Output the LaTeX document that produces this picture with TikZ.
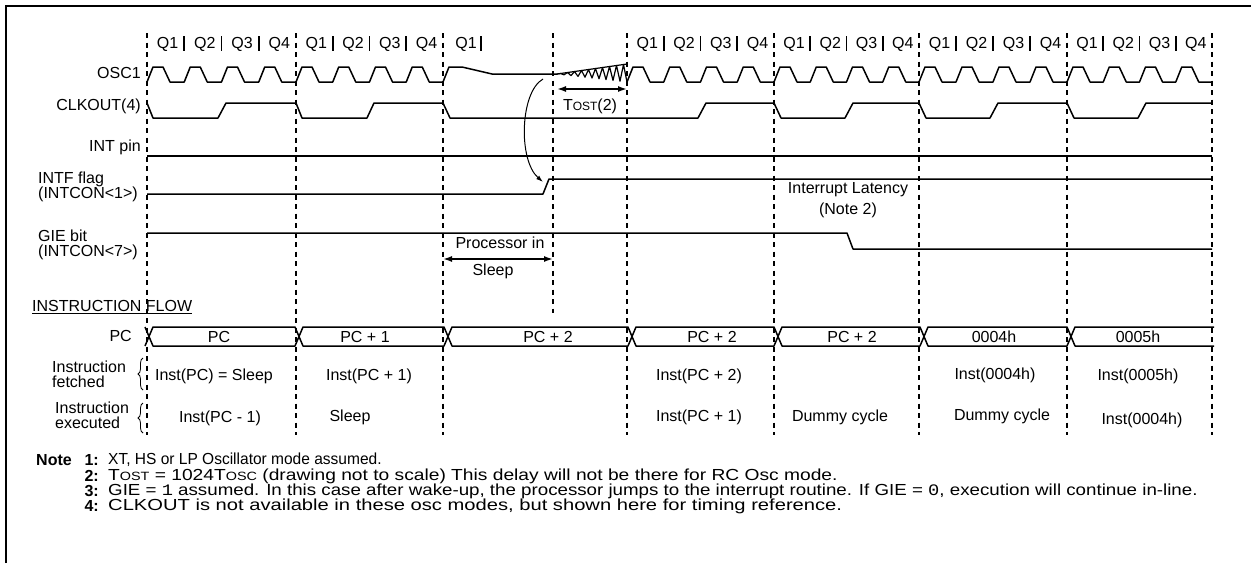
\documentclass[tikz,border=0pt]{standalone}
\usepackage{fontspec}
\usepackage{graphicx}
\setmainfont{Liberation Sans}
\newfontfamily\monofont{Liberation Mono}
\usetikzlibrary{arrows.meta,decorations.pathreplacing}
\newcommand\mysc[1]{{\fontsize{12}{13}\selectfont #1}}
\begin{document}
\begin{tikzpicture}[x=1pt,y=-1pt,
  font=\fontsize{16}{18}\selectfont,
  sig/.style={line width=1.5pt,line join=round},
  bord/.style={line width=2pt},
  cyc/.style={line width=2pt,dash pattern=on 5pt off 4.5pt},
  qbar/.style={line width=1.8pt},
  lab/.style={inner sep=0pt,anchor=east},
  txt/.style={inner sep=0pt},
  ltxt/.style={inner sep=0pt,anchor=west,align=left},
  bl/.style={inner sep=0pt,anchor=east,font=\fontsize{16}{18}\selectfont\bfseries},
  dimarrow/.style={line width=1.6pt,{Latex[length=9pt,width=6pt]}-{Latex[length=9pt,width=6pt]}},
  wake/.style={line width=1pt,-{Latex[length=7pt,width=4.5pt]}},
  brc/.style={line width=0.8pt,decorate,decoration={brace,amplitude=5pt}},
]
\useasboundingbox (0,0) rectangle (1251,563);
% frame (top and left)
\draw[bord] (6,563) -- (6,6) -- (1251,6);

% cycle boundary lines
\foreach \x in {147,296,443,627,774,919,1067,1212}
  \draw[cyc] (\x,33) -- (\x,435);
\draw[cyc] (553,33) -- (553,313);

% Q labels, separators and OSC1 for normal cycles
\foreach \a/\b [count=\c] in {147/296,296/443,627/774,774/919,919/1067,1067/1212} {
  \pgfmathsetmacro\q{(\b-\a)/4}
  \foreach \k in {1,...,4}
    \node[txt] (q\c\k) at ({\a+\q*(\k-0.5)+2},44) {Q\k};
  \foreach \k in {1,2,3}
    \draw[qbar] ({\a+\q*\k},36) -- ({\a+\q*\k},51);
  \draw[sig] (\a,82) foreach \k in {0,...,3} {
    -- ({\a+\q*\k+6},67) -- ({\a+\q*\k+16},67) -- ({\a+\q*\k+23},82) -- ({\a+\q*(\k+1)},82) };
}
% sleep cycle Q1
\node[txt] (qs1) at (466,44) {Q1};
\draw[qbar] (481,36) -- (481,51);

% OSC1 during sleep and oscillator start-up
\draw[sig] (443,82) -- (449,67) -- (462,67) -- (492,74) -- (557,74);
\draw[line width=1.2pt,line join=round] (557,74)
  foreach \i in {1,...,20} { -- ({557+70*\i/20},{74+((mod(\i,2)==1) ? -10 : 8)*\i/20}) };
\draw[line width=1.2pt] (557,74) -- (627,64);

% CLKOUT
\draw[sig] (147,103) -- (153,118) -- (218,118) -- (226,103) -- (296,103) -- (302,118)
  -- (367,118) -- (374,103) -- (443,103) -- (450,118) -- (698,118) -- (706,103)
  -- (774,103) -- (781,118) -- (845,118) -- (853,103) -- (919,103) -- (926,118)
  -- (990,118) -- (998,103) -- (1067,103) -- (1074,118) -- (1138,118) -- (1146,103)
  -- (1212,103);

% INT pin
\draw[sig] (147,156) -- (1212,156);
% INTF flag
\draw[sig] (147,194) -- (543,194) -- (549,179) -- (1212,179);
% GIE bit
\draw[sig] (147,233) -- (847,233) -- (853,249) -- (1212,249);

% wake-up arrow
\coordinate (wakefrom) at (543,79);
\coordinate (waketo) at (543,182);
\draw[wake] (wakefrom) .. controls (520,92) and (518,160) .. (waketo);

% TOST
\coordinate (tosta) at (557,89);
\coordinate (tostb) at (627,89);
\draw[dimarrow] (tosta) -- (tostb);
\node[txt] (tost) at (590,106) {T\mysc{OST}(2)};

% Processor in Sleep
\coordinate (slpa) at (443,259);
\coordinate (slpb) at (553,259);
\draw[dimarrow] (slpa) -- (slpb);
\node[txt] (procin) at (500,243) {Processor in};
\node[txt] (procsl) at (493,271) {Sleep};

% Interrupt latency
\node[txt] (latency) at (848,190) {Interrupt Latency};
\node[txt] (note2) at (848,210) {(Note 2)};

% signal labels
\node[lab] (osc) at (141,73) {OSC1};
\node[lab] (clk) at (141,106) {CLKOUT(4)};
\node[lab] (intpin) at (141,147) {INT pin};
\node[ltxt] (intf) at (38,187) {INTF flag\\[-3pt](INTCON<1>)};
\node[ltxt] (gie) at (38,245) {GIE bit\\[-3pt](INTCON<7>)};
\node[ltxt] (iflow) at (32,306) {INSTRUCTION FLOW};
\draw[line width=1pt] (32,313) -- (iflow.east |- 0,313);

% PC bus
\node[lab] (pclab) at (132,336) {PC};
\draw[sig] (145,327) -- (153,346) -- (295,346) -- (303,327) -- (444,327) -- (452,346)
  -- (628,346) -- (636,327) -- (774,327) -- (782,346) -- (920,346) -- (928,327)
  -- (1067,327) -- (1075,346) -- (1214,346);
\draw[sig] (145,346) -- (153,327) -- (295,327) -- (303,346) -- (444,346) -- (452,327)
  -- (628,327) -- (636,346) -- (774,346) -- (782,327) -- (920,327) -- (928,346)
  -- (1067,346) -- (1075,327) -- (1214,327);
\node[txt] (pc1) at (219,337) {PC};
\node[txt] (pc2) at (365,337) {PC + 1};
\node[txt] (pc3) at (548,337) {PC + 2};
\node[txt] (pc4) at (712,337) {PC + 2};
\node[txt] (pc5) at (852,337) {PC + 2};
\node[txt] (pc6) at (994,337) {0004h};
\node[txt] (pc7) at (1138,337) {0005h};

% instruction fetched / executed
\node[ltxt] (ifetch) at (52,374) {Instruction\\[-3pt]fetched};
\node[ltxt] (iexec) at (55,415) {Instruction\\[-3pt]executed};
\draw[brc] (143,390) -- (143,358);
\draw[brc] (143,433) -- (143,403);

\node[txt] (f1) at (214,376) {Inst(PC) = Sleep};
\node[txt] (f2) at (369,376) {Inst(PC + 1)};
\node[txt] (f3) at (699,376) {Inst(PC + 2)};
\node[txt] (f4) at (995,375) {Inst(0004h)};
\node[txt] (f5) at (1138,376) {Inst(0005h)};

\node[txt] (e1) at (220,418) {Inst(PC - 1)};
\node[txt] (e2) at (350,417) {Sleep};
\node[txt] (e3) at (699,417) {Inst(PC + 1)};
\node[txt] (e4) at (840,417) {Dummy cycle};
\node[txt] (e5) at (1002,416) {Dummy cycle};
\node[txt] (e6) at (1142,420) {Inst(0004h)};

% notes
\node[ltxt,font=\fontsize{16}{18}\selectfont\bfseries] (notehead) at (36,460) {Note};
\node[bl] (n1) at (99,460) {1:};
\node[bl] (n2) at (99,476) {2:};
\node[bl] (n3) at (99,491) {3:};
\node[bl] (n4) at (99,506) {4:};
\node[ltxt] (t1) at (108,460) {\scalebox{0.97}[1]{XT, HS or LP Oscillator mode assumed.}};
\node[ltxt] (t2) at (108,476) {\scalebox{1.2}[1]{T\mysc{OST} = 1024T\mysc{OSC} (drawing not to scale) This delay will not be there for RC Osc mode.}};
\node[ltxt] (t3) at (108,491) {\scalebox{1.17}[1]{GIE = {\monofont 1} assumed. In this case after wake-up, the processor jumps to the interrupt routine. If GIE = {\monofont 0}, execution will continue in-line.}};
\node[ltxt] (t4) at (108,506) {\scalebox{1.26}[1]{CLKOUT is not available in these osc modes, but shown here for timing reference.}};
\end{tikzpicture}
\end{document}
